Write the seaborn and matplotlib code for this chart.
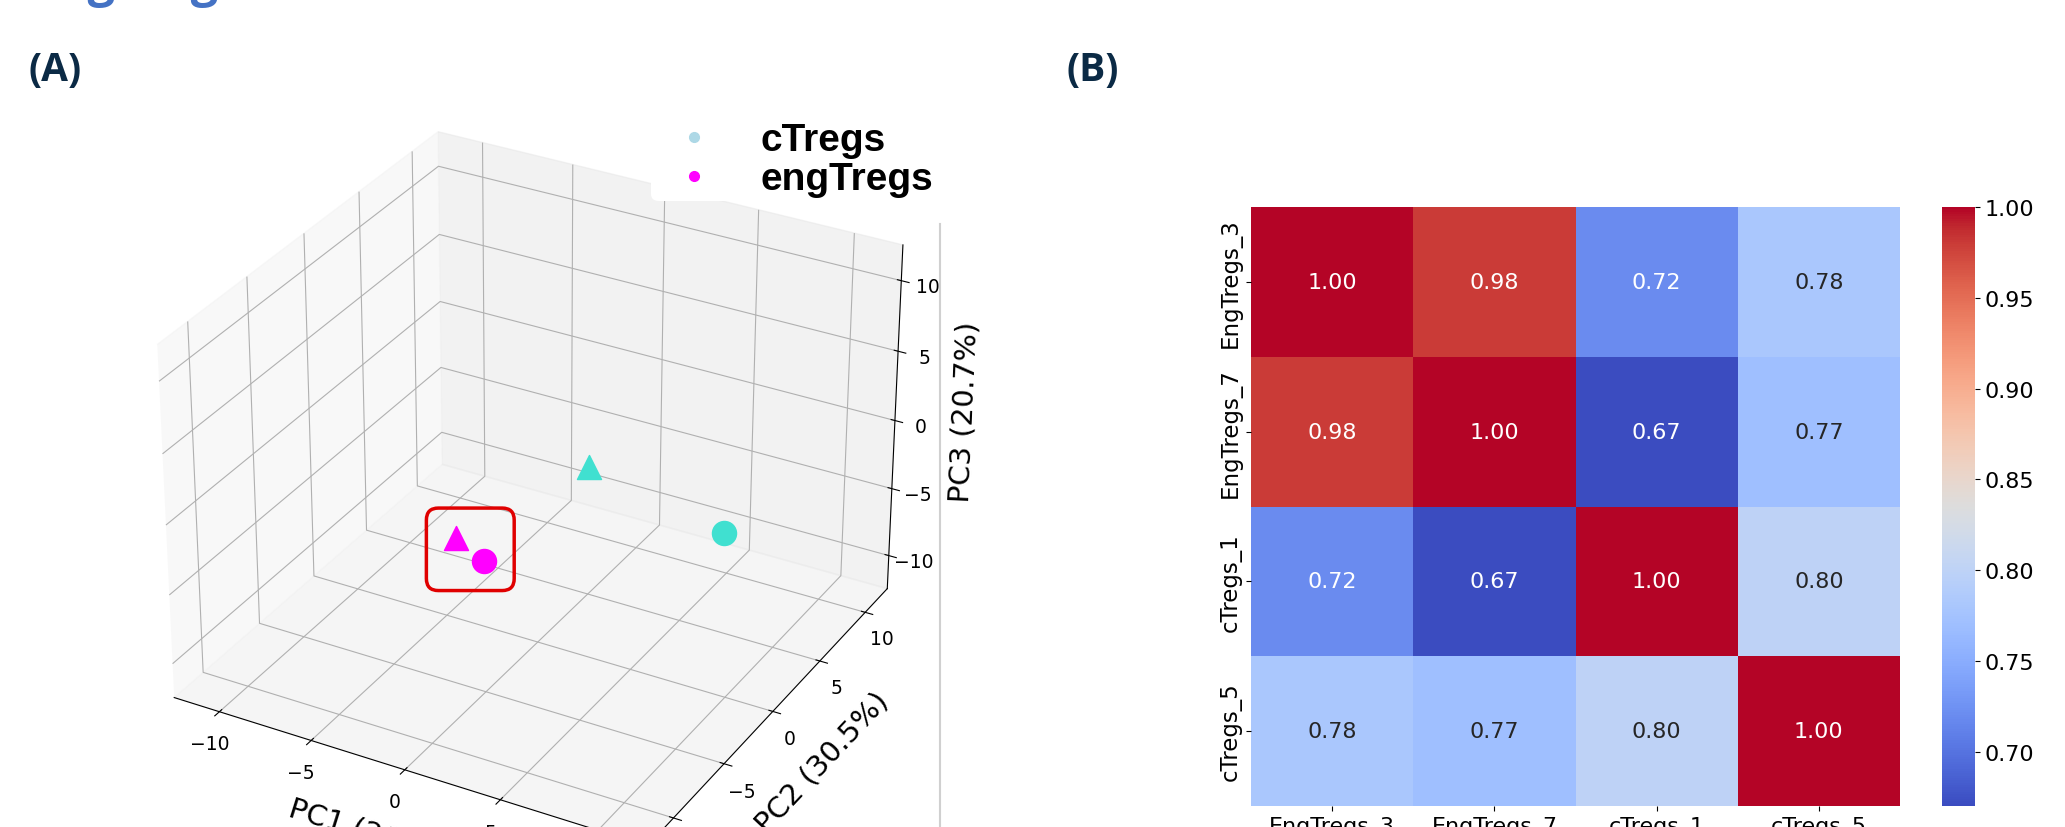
import matplotlib
matplotlib.use("Agg")
import matplotlib.pyplot as plt
import seaborn as sns
import numpy as np
import pandas as pd
from matplotlib.lines import Line2D
from matplotlib.patches import FancyBboxPatch
from matplotlib.transforms import IdentityTransform
from mpl_toolkits.mplot3d import proj3d

# PCA scores
samples = ["EngTregs_3", "EngTregs_7", "cTregs_1", "cTregs_5"]
groups = ["engTregs", "engTregs", "cTregs", "cTregs"]
pc1 = [-4.4, -6.0, 7.9, 3.1]
pc2 = [2.6, 2.7, 3.8, -0.7]
pc3 = [-10.0, -9.0, -4.0, 2.0]
var_explained = [28.8, 30.5, 20.7]

# sample correlation matrix
corr_values = [
    [1.00, 0.98, 0.72, 0.78],
    [0.98, 1.00, 0.67, 0.77],
    [0.72, 0.67, 1.00, 0.80],
    [0.78, 0.77, 0.80, 1.00],
]

group_colors = {"cTregs": "turquoise", "engTregs": "magenta"}
legend_colors = {"cTregs": "lightblue", "engTregs": "magenta"}
sample_markers = {"EngTregs_3": "o", "EngTregs_7": "^", "cTregs_1": "o", "cTregs_5": "^"}

fig = plt.figure(figsize=(20.65, 8.28), dpi=100)
W, H = 2065, 828

# (A) 3D PCA
ax3d = fig.add_axes([110 / W, -72.5 / H, 833 / W, 833 / H], projection="3d")
for i, s in enumerate(samples):
    ax3d.scatter(pc1[i], pc2[i], pc3[i], color=group_colors[groups[i]],
                 marker=sample_markers[s], s=300, depthshade=False)
ax3d.view_init(elev=30, azim=-61)
ax3d.set_xlim(-12.5, 12.5)
ax3d.set_ylim(-12.5, 12.5)
ax3d.set_zlim(-12.5, 12.5)
for axis in (ax3d.xaxis, ax3d.yaxis, ax3d.zaxis):
    axis.set_ticks([-10, -5, 0, 5, 10])
ax3d.tick_params(labelsize=13.5)
ax3d.set_xlabel(f"PC1 ({var_explained[0]}%)", fontsize=21, labelpad=12)
ax3d.set_ylabel(f"PC2 ({var_explained[1]}%)", fontsize=21, labelpad=12)
ax3d.set_zlabel(f"PC3 ({var_explained[2]}%)", fontsize=21, labelpad=10)

handles = [Line2D([], [], marker="o", linestyle="", color=legend_colors[g], markersize=7)
           for g in ["cTregs", "engTregs"]]
leg = ax3d.legend(handles, ["cTregs", "engTregs"], loc="upper left",
                  bbox_to_anchor=(632 / W, 1 - 100 / H), bbox_transform=fig.transFigure,
                  prop={"family": "Liberation Sans", "weight": "bold", "size": 28},
                  handletextpad=0.7, labelspacing=0.08, borderpad=0.1,
                  frameon=True, facecolor="white", edgecolor="none", framealpha=1)

# (B) correlation heatmap
corr = pd.DataFrame(corr_values, index=samples, columns=samples)
ax_hm = fig.add_axes([1251 / W, 21 / H, 649 / W, 599 / H])
ax_cb = fig.add_axes([1942 / W, 21 / H, 33 / W, 599 / H])
sns.heatmap(corr, annot=True, fmt=".2f", cmap="coolwarm", ax=ax_hm, cbar_ax=ax_cb,
            annot_kws={"size": 16})
ax_hm.set_yticklabels(samples, rotation=90, va="center", fontsize=16.5)
ax_hm.set_xticklabels(samples, fontsize=16)
ax_cb.tick_params(labelsize=16)

# panel labels and cut-off heading
fig.text(28 / W, 1 - 70 / H, "(A)", fontsize=28, fontweight="bold", color="#0b2a45",
         family="Open Sans", va="center")
fig.text(1066 / W, 1 - 70 / H, "(B)", fontsize=28, fontweight="bold", color="#0b2a45",
         family="Open Sans", va="center")
fig.text(28 / W, 1 + 4 / H, "engTregs", fontsize=35, fontweight="bold", color="#4472c4",
         family="Open Sans", va="baseline")

fig.add_artist(Line2D([940 / W, 940 / W], [0, 1 - 225 / H], color="#d0d0d0", lw=1.5))

# red box around the engTregs samples
fig.canvas.draw()
xs2, ys2, _ = proj3d.proj_transform(np.array(pc1[:2]), np.array(pc2[:2]),
                                    np.array(pc3[:2]), ax3d.get_proj())
pts = ax3d.transData.transform(np.column_stack([xs2, ys2]))
pad = 30
x0, y0 = pts.min(axis=0) - pad
x1, y1 = pts.max(axis=0) + pad
box = FancyBboxPatch((x0, y0), x1 - x0, y1 - y0, boxstyle="round,pad=0,rounding_size=12",
                     transform=IdentityTransform(), fill=False, edgecolor="#e00000", lw=2.5)
fig.add_artist(box)

fig.savefig("out.png", dpi=100)
